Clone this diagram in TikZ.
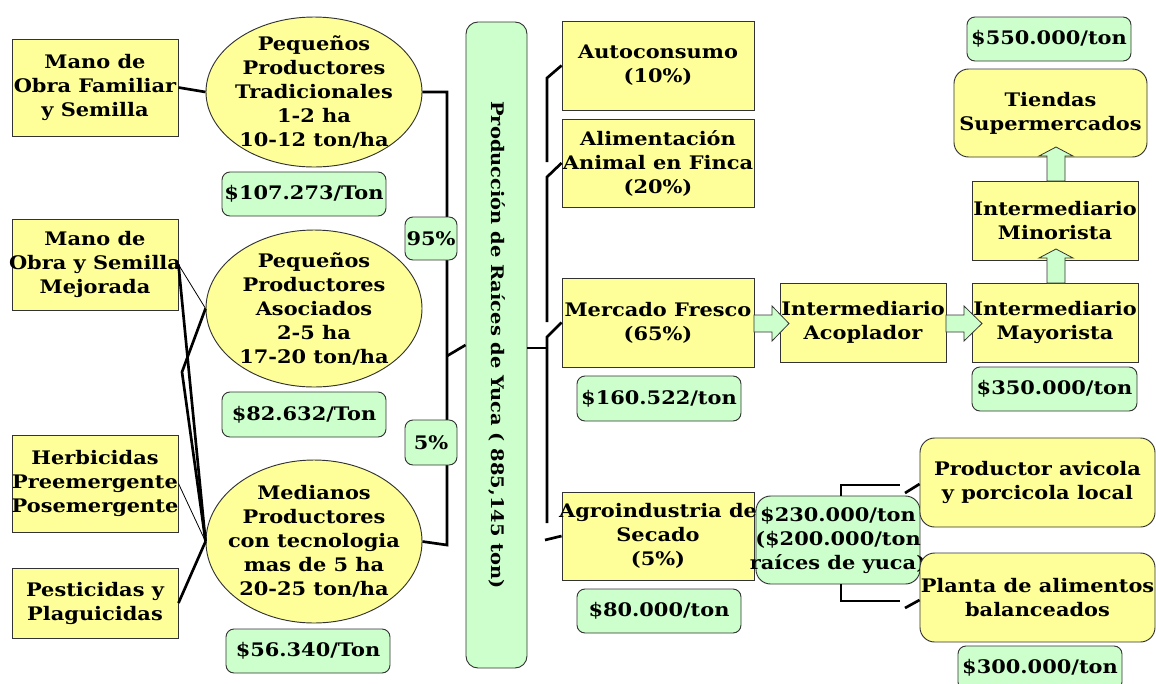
\documentclass[tikz,border=0pt]{standalone}
\usepackage{fontspec}
\setmainfont{DejaVu Serif}[FakeStretch=1.12]
\usetikzlibrary{shapes.geometric}

\definecolor{amarillo}{HTML}{FFFF99}
\definecolor{verde}{HTML}{CCFFCC}
\newcommand{\pxu}{0.75pt}

\tikzset{
  etiqueta/.style={font=\bfseries\fontsize{14}{18}\selectfont, align=center, inner sep=0pt},
  tam/.style 2 args={minimum width=#1*\pxu, minimum height=#2*\pxu},
  texto/.style={label={[etiqueta]center:{#1}}},
  caja/.style={draw=black!80, fill=amarillo, line width=0.7pt, inner sep=0pt},
  cajar/.style={caja, rounded corners=11pt},
  elipse/.style={caja, ellipse},
  precio/.style={draw=black!80, fill=verde, rounded corners=6pt, line width=0.7pt, inner sep=0pt},
  conn/.style={line width=2pt},
  fino/.style={line width=0.6pt},
  flecha/.style={draw=black!80, fill=verde, line width=0.6pt}
}

\begin{document}
\begin{tikzpicture}[x=0.75pt, y=-0.75pt]
  \useasboundingbox (0,0) rectangle (1156,683);

  % insumos
  \node[caja, tam={166}{97}, texto={Mano de\\Obra Familiar\\y Semilla}] (famil) at (95,87.5) {};
  \node[caja, tam={166}{91}, texto={Mano de\\Obra y Semilla\\Mejorada}] (mejor) at (95,264.5) {};
  \node[caja, tam={166}{97}, texto={Herbicidas\\Preemergente\\Posemergente}] (herbi) at (95,483.5) {};
  \node[caja, tam={166}{70}, texto={Pesticidas y\\Plaguicidas}] (pesti) at (95,603) {};

  % productores
  \node[elipse, tam={216}{150}, texto={Pequeños\\Productores\\Tradicionales\\1-2 ha\\10-12 ton/ha}] (trad) at (314,92) {};
  \node[elipse, tam={216}{157}, texto={Pequeños\\Productores\\Asociados\\2-5 ha\\17-20 ton/ha}] (asoc) at (314,308.5) {};
  \node[elipse, tam={216}{163}, texto={Medianos\\Productores\\con tecnologia\\mas de 5 ha\\20-25 ton/ha}] (medi) at (314,541.5) {};
  \node[precio, tam={164}{44}, texto={\$107.273/Ton}] (ptrad) at (304,194) {};
  \node[precio, tam={164}{45}, texto={\$82.632/Ton}] (pasoc) at (304,414.5) {};
  \node[precio, tam={164}{44}, texto={\$56.340/Ton}] (pmedi) at (308,651) {};

  \draw[conn] (famil.east) -- (trad.west);
  \draw[fino] (mejor.east) -- (asoc.west);
  \draw[conn] (mejor.east) -- (medi.west);
  \draw[conn] (asoc.west) -- (182,372) -- (medi.west);
  \draw[fino] (herbi.east) -- (medi.west);
  \draw[conn] (pesti.east) -- (medi.west);

  % produccion total
  \node[precio, rounded corners=9pt, tam={61}{646}, label={[etiqueta, font=\bfseries\fontsize{13}{18}\selectfont, rotate=-90]center:{Producción de Raíces de Yuca ( 885,145 ton)}}] (prod) at (496.5,345) {};
  \coordinate (ltop) at (447,92);
  \coordinate (lbot) at (447,545);
  \coordinate (lmid) at (447,356);
  \draw[conn] (trad.east) -- (ltop) -- (lbot) -- (medi.east);
  \draw[conn] (lmid) -- (prod.west);
  \node[precio, tam={52}{43}, texto={95\%}] (p95) at (431,238.5) {};
  \node[precio, tam={52}{45}, texto={5\%}] (p5) at (431,442.5) {};

  % destinos
  \node[caja, tam={192}{89}, texto={Autoconsumo\\(10\%)}] (auto) at (658,65.5) {};
  \node[caja, tam={192}{88}, texto={Alimentación\\Animal en Finca\\(20\%)}] (alim) at (658,163) {};
  \node[caja, tam={192}{89}, texto={Mercado Fresco\\(65\%)}] (merc) at (658,322.5) {};
  \node[caja, tam={192}{88}, texto={Agroindustria de\\Secado\\(5\%)}] (agro) at (658,536) {};
  \node[precio, tam={164}{45}, texto={\$160.522/ton}] (pmerc) at (659,398.5) {};
  \node[precio, tam={164}{44}, texto={\$80.000/ton}] (pagro) at (659,611) {};

  \coordinate (rmid) at (547,348);
  \coordinate (ra) at (547,78);
  \coordinate (rb) at (547,177);
  \coordinate (rc) at (547,337);
  \draw[conn] (prod.east |- rmid) -- (rmid);
  \draw[conn] (auto.west) -- (ra) -- (547,162);
  \draw[conn] (alim.west) -- (rb) -- (547,322);
  \draw[conn] (merc.west) -- (rc) -- (547,523);
  \draw[conn] (545,540) -- (agro.west);

  % mercado fresco
  \node[caja, tam={166}{79}, texto={Intermediario\\Acoplador}] (acop) at (863,322.5) {};
  \node[caja, tam={166}{79}, texto={Intermediario\\Mayorista}] (mayo) at (1055,322.5) {};
  \node[caja, tam={166}{79}, texto={Intermediario\\Minorista}] (mino) at (1055,220.5) {};
  \node[cajar, tam={193}{88}, texto={Tiendas\\Supermercados}] (tiend) at (1050.5,113) {};
  \node[precio, tam={165}{44}, texto={\$350.000/ton}] (pmayo) at (1054.5,389) {};
  \node[precio, tam={164}{44}, texto={\$550.000/ton}] (ptiend) at (1049,39) {};

  \draw[flecha] (754,315) -- (772,315) -- (772,306) -- (789,323.5) -- (772,341) -- (772,332) -- (754,332) -- cycle;
  \draw[flecha] (946,315) -- (964,315) -- (964,306) -- (982,323.5) -- (964,341) -- (964,332) -- (946,332) -- cycle;
  \draw[flecha] (1047,283) -- (1047,258) -- (1039,258) -- (1056,249) -- (1073,258) -- (1065,258) -- (1065,283) -- cycle;
  \draw[flecha] (1047,181) -- (1047,156) -- (1039,156) -- (1056,147) -- (1073,156) -- (1065,156) -- (1065,181) -- cycle;

  % agroindustria
  \node[precio, rounded corners=11pt, tam={164}{88}, texto={\$230.000/ton\\(\$200.000/ton\\raíces de yuca)}] (psec) at (838,540) {};
  \node[cajar, tam={235}{89}, texto={Productor avicola\\y porcicola local}] (avic) at (1037.5,482.5) {};
  \node[cajar, tam={235}{89}, texto={Planta de alimentos\\balanceados}] (plant) at (1037.5,597.5) {};
  \node[precio, tam={164}{44}, texto={\$300.000/ton}] (pplant) at (1040,668) {};

  \draw[conn] (psec.north -| 841,0) -- (841,485) -- (900,485);
  \draw[conn] (905,493) -- (avic.west |- 0,484);
  \draw[conn] (psec.south -| 841,0) -- (841,601) -- (900,601);
  \draw[conn] (905,608) -- (plant.west |- 0,600);
\end{tikzpicture}
\end{document}
